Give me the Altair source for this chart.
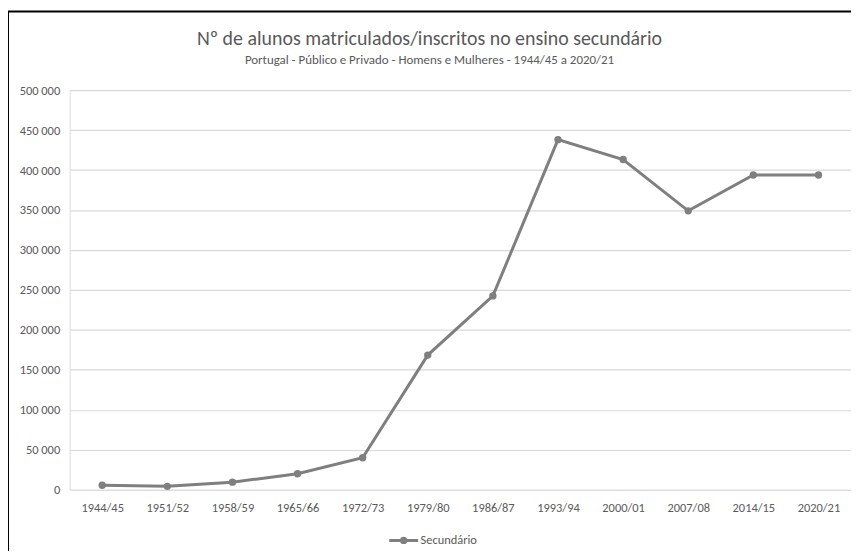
import altair as alt
import pandas as pd

anos = ["1944/45", "1951/52", "1958/59", "1965/66", "1972/73", "1979/80",
        "1986/87", "1993/94", "2000/01", "2007/08", "2014/15", "2020/21"]
alunos = [5600, 4300, 9500, 20000, 40000, 168500, 242500, 438000, 413200, 349000, 393800, 393800]
serie = "Secundário"

df = pd.DataFrame({"ano": anos, "alunos": alunos, "serie": [serie] * len(anos)})

FONT = "Carlito, Lato, Liberation Sans"
GREY = "#7f7f7f"
TXT = "#595959"

base = alt.Chart(df)

line = base.mark_line(
    color=GREY, strokeWidth=3,
    point=alt.OverlayMarkDef(filled=True, size=55, color=GREY),
).encode(
    x=alt.X("ano:N", sort=anos, title=None,
            axis=alt.Axis(labelAngle=0, ticks=False, domain=False, grid=False,
                          labelPadding=12, labelFontSize=12.5, labelColor=TXT, labelFont=FONT)),
    y=alt.Y("alunos:Q", title=None,
            scale=alt.Scale(domain=[0, 500000], nice=False),
            axis=alt.Axis(values=list(range(0, 500001, 50000)), format=",d",
                          ticks=False, domain=False, labelPadding=10,
                          labelFontSize=12.5, labelColor=TXT, labelFont=FONT,
                          gridColor="#d9d9d9", gridWidth=1.2)),
    color=alt.Color("serie:N", scale=alt.Scale(range=[GREY]), title=None,
                    legend=alt.Legend(orient="none", legendX=320, legendY=437,
                                      symbolType="M-1,0H1M0.15,0A0.15,0.15 0 1,1 -0.15,0A0.15,0.15 0 1,1 0.15,0",
                                      symbolSize=841, symbolStrokeWidth=3,
                                      symbolFillColor=GREY, symbolStrokeColor=GREY,
                                      labelFontSize=12.5, labelColor=TXT, labelFont=FONT,
                                      labelOffset=1)),
)

frame_df = pd.DataFrame({"a": [0]})
left_border = alt.Chart(frame_df).mark_rule(color="black", strokeWidth=2).encode(
    x=alt.value(-62), y=alt.value(-79), y2=alt.value(480))
top_border = alt.Chart(frame_df).mark_rule(color="black", strokeWidth=2).encode(
    x=alt.value(-63), x2=alt.value(800), y=alt.value(-79))

chart = alt.layer(line, left_border, top_border).properties(
    width=786, height=402,
    autosize=alt.AutoSizeParams(type="none"),
    padding={"left": 62, "top": 81, "right": 0, "bottom": 60},
    title=alt.TitleParams(
        text="Nº de alunos matriculados/inscritos no ensino secundário",
        subtitle="Portugal - Público e Privado - Homens e Mulheres - 1944/45 a 2020/21",
        fontSize=20, subtitleFontSize=13, font=FONT, subtitleFont=FONT,
        color=TXT, subtitleColor=TXT, fontWeight="normal", anchor="middle",
        frame="group", dx=-31, dy=79, offset=22, subtitlePadding=5),
).configure_view(stroke=None).configure(
    locale={"number": {"decimal": ",", "thousands": " ", "grouping": [3], "currency": ["", " €"]}}
)

chart.save("out.html", embed_options={"renderer": "svg", "actions": False})
